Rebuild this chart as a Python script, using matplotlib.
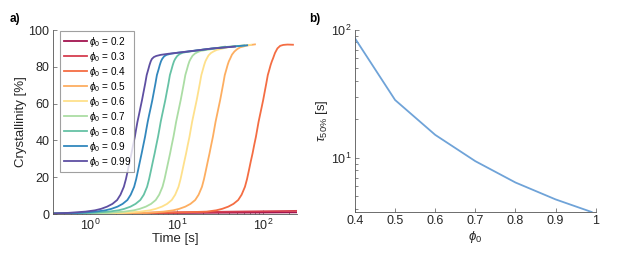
import matplotlib
matplotlib.use("Agg")
import matplotlib.pyplot as plt
from matplotlib.ticker import LogLocator, NullFormatter, FixedLocator

plt.rcParams['font.family'] = ['Liberation Sans', 'DejaVu Sans']
plt.rcParams['mathtext.fontset'] = 'custom'
plt.rcParams['mathtext.rm'] = 'Liberation Sans'
plt.rcParams['mathtext.it'] = 'Liberation Sans:italic'

# ---- data: panel a (time [s], crystallinity [%]) ----
phi_labels = ["0.2", "0.3", "0.4", "0.5", "0.6", "0.7", "0.8", "0.9", "0.99"]
colors = ["#a3144f", "#d53e4f", "#f46d43", "#fdae61", "#fee08b",
          "#abdda4", "#66c2a5", "#3288bd", "#5e4fa2"]

t_02 = [0.37, 5, 30, 100, 240]
c_02 = [0.3, 0.5, 0.7, 0.8, 0.9]

t_03 = [0.37, 5, 30, 100, 240]
c_03 = [0.3, 0.7, 1.2, 1.5, 1.7]

t_04 = [0.37, 5, 13.9, 22.1, 28.5, 33.4, 39.3, 45.1, 51.2, 56.1, 61.3, 64.8, 68.3, 71.5, 75.1,
        78.4, 82.1, 85, 88, 91.7, 95.6, 99.6, 103.8, 108.2, 112.6, 117.4, 121.4, 125.5, 129.5,
        136.3, 145.4, 156.5, 170, 190, 220]
c_04 = [0.3, 0.6, 1.0, 1.3, 2.0, 2.8, 4.0, 5.5, 7.6, 10.5, 14.8, 19, 24, 28.5, 33,
        37.5, 42, 46, 50, 54, 58, 62, 66.5, 71, 75.5, 78.5, 81, 83, 84.6,
        87.5, 90, 91.4, 91.9, 92.1, 92]

t_05 = [0.37, 4.42, 7.03, 9.07, 10.64, 12.52, 14.36, 16.3, 17.86, 19.52, 20.61, 21.73, 22.76,
        23.88, 24.95, 26.12, 27.05, 28, 29.18, 30.41, 31.7, 33.04, 34.44, 35.81, 37.35, 38.64,
        39.93, 41.22, 43.37, 46.26, 49.8, 54, 65, 80]
c_05 = [0.3, 0.6, 1.3, 2.0, 2.8, 4.0, 5.5, 7.6, 10.5, 14.8, 19, 24, 28.5,
        33, 37.5, 42, 46, 50, 54, 58, 62, 66.5, 71, 75.5, 78.5, 81,
        83, 84.3, 86.6, 88.3, 89.6, 90.6, 91.6, 92.2]

t_06 = [0.37, 2.37, 3.77, 4.86, 5.70, 6.71, 7.70, 8.73, 9.57, 10.46, 11.04, 11.64, 12.2, 12.8,
        13.37, 14.0, 14.49, 15, 15.63, 16.29, 16.98, 17.7, 18.45, 19.19, 20.01, 20.7, 21.39,
        22.08, 23.24, 24.78, 26.7, 29, 40, 72]
c_06 = [0.3, 0.6, 1.3, 2.0, 2.8, 4.0, 5.5, 7.6, 10.5, 14.8, 19, 24, 28.5, 33,
        37.5, 42, 46, 50, 54, 58, 62, 66.5, 71, 75.5, 78.5, 81, 83,
        84.3, 86.2, 87.5, 88.4, 89.2, 90.8, 92]

t_07 = [0.37, 1.55, 2.46, 3.18, 3.72, 4.38, 5.03, 5.70, 6.25, 6.83, 7.21, 7.60, 7.97, 8.36,
        8.73, 9.14, 9.47, 9.8, 10.21, 10.64, 11.09, 11.56, 12.05, 12.53, 13.07, 13.52, 13.97,
        14.43, 15.18, 16.19, 17.4, 19, 25, 36]
c_07 = [0.3, 0.6, 1.3, 2.0, 2.8, 4.0, 5.5, 7.6, 10.5, 14.8, 19, 24, 28.5, 33,
        37.5, 42, 46, 50, 54, 58, 62, 66.5, 71, 75.5, 78.5, 81, 83,
        84.3, 86, 87.2, 88, 88.7, 89.6, 91]

t_08 = [0.37, 1.03, 1.63, 2.11, 2.47, 2.91, 3.33, 3.78, 4.15, 4.53, 4.78, 5.04, 5.28, 5.54,
        5.79, 6.06, 6.28, 6.5, 6.77, 7.06, 7.36, 7.67, 8.0, 8.31, 8.67, 8.97, 9.27, 9.57,
        10.07, 10.74, 11.6, 13, 20, 35, 60]
c_08 = [0.3, 0.6, 1.3, 2.0, 2.8, 4.0, 5.5, 7.6, 10.5, 14.8, 19, 24, 28.5, 33,
        37.5, 42, 46, 50, 54, 58, 62, 66.5, 71, 75.5, 78.5, 81, 83, 84.3,
        85.8, 86.9, 87.6, 88.1, 89.3, 90.7, 91.6]

t_09 = [0.37, 0.73, 1.15, 1.49, 1.75, 2.06, 2.36, 2.68, 2.93, 3.21, 3.39, 3.57, 3.74, 3.92,
        4.10, 4.29, 4.44, 4.6, 4.79, 5.0, 5.21, 5.43, 5.66, 5.88, 6.14, 6.35, 6.56, 6.77,
        7.13, 7.6, 8.5, 10, 15, 25, 45, 65]
c_09 = [0.3, 0.6, 1.3, 2.0, 2.8, 4.0, 5.5, 7.6, 10.5, 14.8, 19, 24, 28.5, 33,
        37.5, 42, 46, 50, 54, 58, 62, 66.5, 71, 75.5, 78.5, 81, 83, 84.3,
        85.7, 86.5, 87.1, 87.6, 88.6, 89.9, 91, 91.7]

t_099 = [0.37, 0.55, 0.88, 1.13, 1.33, 1.56, 1.80, 2.04, 2.23, 2.44, 2.58, 2.72, 2.85, 2.99,
         3.12, 3.27, 3.38, 3.5, 3.65, 3.80, 3.96, 4.13, 4.31, 4.48, 4.67, 4.83, 4.99, 5.15,
         5.42, 5.78, 6.5, 8, 10, 15, 25, 47]
c_099 = [0.3, 0.6, 1.3, 2.0, 2.8, 4.0, 5.5, 7.6, 10.5, 14.8, 19, 24, 28.5, 33,
         37.5, 42, 46, 50, 54, 58, 62, 66.5, 71, 75.5, 78.5, 81, 83, 84.3,
         85.3, 85.9, 86.5, 87.1, 87.6, 88.6, 89.9, 91.0]

times = [t_02, t_03, t_04, t_05, t_06, t_07, t_08, t_09, t_099]
cryst = [c_02, c_03, c_04, c_05, c_06, c_07, c_08, c_09, c_099]

# ---- data: panel b ----
phi0 = [0.4, 0.5, 0.6, 0.7, 0.8, 0.9, 0.99]
tau50 = [86, 28.3, 15.1, 9.4, 6.4, 4.72, 3.76]

txt = '#262626'
spine_c = '#555555'

fig = plt.figure(figsize=(6.25, 2.59), dpi=100)
axa = fig.add_axes([0.0848, 0.1737, 0.3904, 0.7104])
axb = fig.add_axes([0.568, 0.1815, 0.385, 0.7027])

for t, c, col, lab in zip(times, cryst, colors, phi_labels):
    axa.plot(t, c, color=col, lw=1.3, label=r'$\phi_0$ = ' + lab)

axa.set_xscale('log')
axa.set_xlim(0.37, 245)
axa.set_ylim(0, 100)
axa.set_yticks([0, 20, 40, 60, 80, 100])
axa.xaxis.set_major_locator(LogLocator(base=10, numticks=10))
axa.xaxis.set_minor_locator(LogLocator(base=10, subs=range(2, 10), numticks=20))
axa.xaxis.set_minor_formatter(NullFormatter())
axa.set_xlabel('Time [s]', fontsize=9.5, color=txt, labelpad=0)
axa.set_ylabel('Crystallinity [%]', fontsize=9.5, color=txt, labelpad=1)

leg = axa.legend(loc='upper left', bbox_to_anchor=(0.025, 1.0), fontsize=7.2,
                 frameon=True, fancybox=False, edgecolor='#888888',
                 handlelength=2.3, handletextpad=0.2, labelspacing=0.1,
                 borderpad=0.35, borderaxespad=0.1)
leg.get_frame().set_linewidth(0.8)

axb.plot(phi0, tau50, color='#6fa3d8', lw=1.3)
axb.set_yscale('log')
axb.set_xlim(0.4, 1.0)
axb.set_ylim(3.76, 100)
axb.set_xticks([0.4, 0.5, 0.6, 0.7, 0.8, 0.9, 1.0])
axb.set_xticklabels(['0.4', '0.5', '0.6', '0.7', '0.8', '0.9', '1'])
axb.yaxis.set_major_locator(FixedLocator([10, 100]))
axb.yaxis.set_minor_locator(LogLocator(base=10, subs=range(2, 10), numticks=20))
axb.yaxis.set_minor_formatter(NullFormatter())
axb.set_xlabel(r'$\phi_0$', fontsize=9.5, color=txt, labelpad=1)
axb.set_ylabel(r'$\tau_{50\%}$ [s]', fontsize=9.5, color=txt, labelpad=1)

for ax in (axa, axb):
    ax.spines['top'].set_visible(False)
    ax.spines['right'].set_visible(False)
    for s in ('left', 'bottom'):
        ax.spines[s].set_color(spine_c)
        ax.spines[s].set_linewidth(0.6)
    ax.tick_params(which='both', direction='in', colors=spine_c, labelcolor=txt,
                   labelsize=9, width=0.5, pad=2.5)
    ax.tick_params(which='major', length=3)
    ax.tick_params(which='minor', length=1.8)

fig.text(0.016, 0.915, 'a)', fontsize=8.5, fontweight='bold', color='black')
fig.text(0.494, 0.915, 'b)', fontsize=8.5, fontweight='bold', color='black')

fig.savefig('out.png', dpi=100)
